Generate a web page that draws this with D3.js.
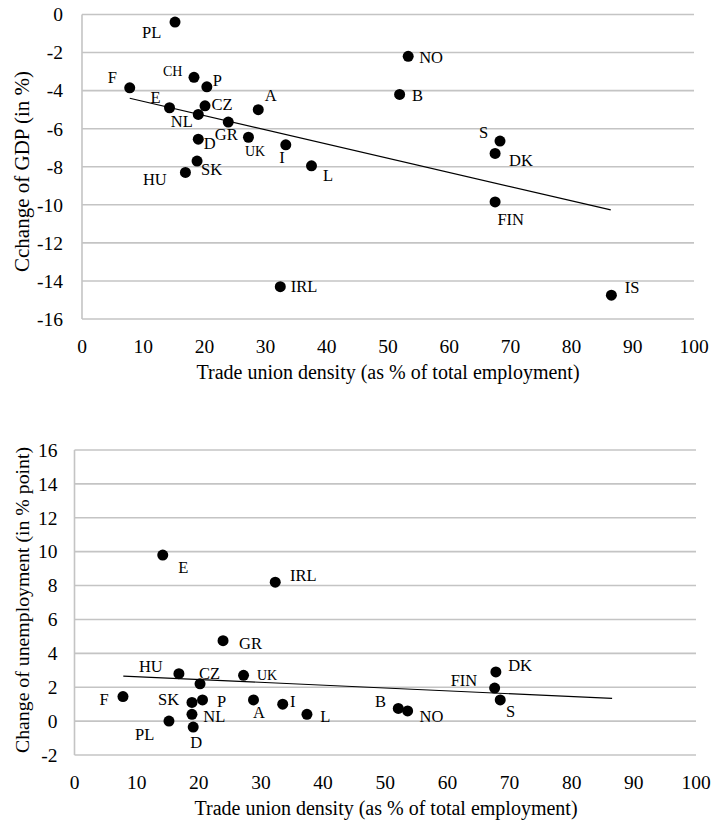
<!DOCTYPE html>
<html>
<head>
<meta charset="utf-8">
<script src="https://cdn.jsdelivr.net/npm/d3@7"></script>
<style>
  body { margin: 0; background: #fff; }
  svg { display: block; }
</style>
</head>
<body>
<div id="chart"></div>
<script>
const width = 712;
const height = 823;
const serif = '"Liberation Serif"';

// countries in the top chart
const countries = ['PL', 'CH', 'P', 'F', 'E', 'CZ', 'NL', 'A', 'GR', 'D', 'UK', 'I', 'SK', 'HU', 'L', 'IRL', 'NO', 'B', 'S', 'DK', 'FIN', 'IS'];
const density = [15.2, 18.3, 20.4, 7.8, 14.3, 20.1, 19.0, 28.8, 23.9, 19.0, 27.2, 33.3, 18.8, 16.9, 37.5, 32.4, 53.3, 51.9, 68.3, 67.5, 67.5, 86.5];
const gdpChange = [-0.4, -3.3, -3.8, -3.85, -4.9, -4.8, -5.25, -5.0, -5.65, -6.55, -6.45, -6.85, -7.7, -8.3, -7.95, -14.3, -2.2, -4.2, -6.65, -7.3, -9.85, -14.75];

// countries in the bottom chart (no CH, no IS)
const countries2 = ['E', 'IRL', 'GR', 'HU', 'CZ', 'UK', 'F', 'SK', 'P', 'A', 'I', 'L', 'NL', 'PL', 'D', 'B', 'NO', 'DK', 'FIN', 'S'];
const density2 = [14.2, 32.3, 23.9, 16.8, 20.2, 27.2, 7.8, 18.9, 20.6, 28.8, 33.5, 37.4, 18.9, 15.2, 19.1, 52.1, 53.6, 67.8, 67.6, 68.5];
const unempChange = [9.8, 8.2, 4.75, 2.8, 2.2, 2.7, 1.45, 1.1, 1.25, 1.25, 1.0, 0.4, 0.4, 0.0, -0.35, 0.75, 0.6, 2.9, 1.95, 1.25];

// linear trend lines, end points
const trendGdp = [[7.8, -4.4], [86.4, -10.27]];
const trendUnemp = [[7.85, 2.66], [86.5, 1.34]];

const xTicks = [0, 10, 20, 30, 40, 50, 60, 70, 80, 90, 100];
const yTicksGdp = [0, -2, -4, -6, -8, -10, -12, -14, -16];
const yTicksUnemp = [-2, 0, 2, 4, 6, 8, 10, 12, 14, 16];

const xTitle = 'Trade union density (as % of total employment)';

// label placement (dx, dy from the dot, px) and smaller labels
const labelPosGdp = {
  PL: [-33, 15.5], CH: [-31, -1], P: [6, -1.3], F: [-22, -4.4], E: [-19, -4.4], CZ: [6.5, 4],
  NL: [-27.5, 13], A: [6.5, -8.3], GR: [-13.5, 18], D: [5.5, 10], UK: [-3.5, 18.4], I: [-6.5, 18.3],
  SK: [4, 14], HU: [-42.5, 13], L: [11.5, 15], IRL: [10.5, 5], NO: [11, 7], B: [12.4, 6.7],
  S: [-21, -2.7], DK: [14, 12.7], FIN: [2.3, 22.7], IS: [13.3, -2.3]
};
const labelPosUnemp = {
  E: [15.6, 18], IRL: [14.7, -1.3], GR: [16, 8.6], HU: [-40, -2], CZ: [-1, -4.4], UK: [13.4, 4.7],
  F: [-23.5, 8.3], SK: [-34, 3], P: [14.4, 7.3], A: [-0.5, 18.3], I: [7.3, 3.3], L: [13.3, 7.4],
  NL: [11.3, 7.4], PL: [-34, 18.7], D: [-3, 21], B: [-23.3, -1.6], NO: [12, 10.7], DK: [12.3, -0.6],
  FIN: [-44, -1.6], S: [5.7, 16.7]
};
const smallLabels = new Set(['CH', 'UK']);

const svg = d3.select('#chart').append('svg')
  .attr('width', width)
  .attr('height', height);

function scatter(cfg) {
  const x = d3.scaleLinear().domain([0, 100]).range([cfg.left, cfg.right]);
  const y = d3.scaleLinear().domain(cfg.yDomain).range([cfg.bottom, cfg.top]);
  const g = svg.append('g');

  // horizontal gridlines
  g.selectAll('line.grid')
    .data(cfg.yTicks)
    .join('line')
    .attr('class', 'grid')
    .attr('x1', cfg.left)
    .attr('x2', cfg.right)
    .attr('y1', d => y(d))
    .attr('y2', d => y(d))
    .attr('stroke', '#c4c4c4')
    .attr('stroke-width', 1.6);

  // left axis line
  g.append('line')
    .attr('x1', cfg.left).attr('x2', cfg.left)
    .attr('y1', cfg.top).attr('y2', cfg.bottom)
    .attr('stroke', '#c4c4c4')
    .attr('stroke-width', 1.6);

  g.selectAll('text.ytick')
    .data(cfg.yTicks)
    .join('text')
    .attr('class', 'ytick')
    .attr('x', cfg.left - cfg.yTickGap)
    .attr('y', d => y(d))
    .attr('dy', '0.35em')
    .attr('text-anchor', 'end')
    .attr('font-size', 19.5)
    .style('font-family', serif)
    .text(d => d);

  g.selectAll('text.xtick')
    .data(xTicks)
    .join('text')
    .attr('class', 'xtick')
    .attr('x', d => x(d))
    .attr('y', cfg.bottom + 34)
    .attr('text-anchor', 'middle')
    .attr('font-size', 19.5)
    .style('font-family', serif)
    .text(d => d);

  g.append('text')
    .attr('x', cfg.xTitleX)
    .attr('y', cfg.bottom + 60)
    .attr('text-anchor', 'middle')
    .attr('font-size', 20)
    .style('font-family', serif)
    .text(xTitle);

  g.append('text')
    .attr('transform', `translate(29,${cfg.yTitleY}) rotate(-90)`)
    .attr('text-anchor', 'middle')
    .attr('font-size', cfg.yTitleSize)
    .style('font-family', serif)
    .text(cfg.yTitle);

  // trend line
  g.append('path')
    .datum(cfg.trend)
    .attr('d', d3.line().x(d => x(d[0])).y(d => y(d[1])))
    .attr('fill', 'none')
    .attr('stroke', '#000')
    .attr('stroke-width', 1.2);

  const pts = cfg.names.map((n, i) => ({ name: n, x: cfg.xs[i], y: cfg.ys[i] }));

  g.selectAll('circle')
    .data(pts)
    .join('circle')
    .attr('cx', d => x(d.x))
    .attr('cy', d => y(d.y))
    .attr('r', 5.5)
    .attr('fill', '#000');

  g.selectAll('text.lab')
    .data(pts)
    .join('text')
    .attr('class', 'lab')
    .attr('x', d => x(d.x) + cfg.labelPos[d.name][0])
    .attr('y', d => y(d.y) + cfg.labelPos[d.name][1])
    .attr('font-size', d => smallLabels.has(d.name) ? 14 : 16.5)
    .style('font-family', serif)
    .text(d => d.name);
}

scatter({
  left: 82, right: 694, top: 14.5, bottom: 319,
  yDomain: [-16, 0], yTicks: yTicksGdp, yTickGap: 19,
  yTitle: 'Cchange of GDP (in %)', yTitleSize: 21, yTitleY: 171.5, xTitleX: 388,
  names: countries, xs: density, ys: gdpChange,
  trend: trendGdp, labelPos: labelPosGdp
});

scatter({
  left: 74.5, right: 696, top: 450, bottom: 755,
  yDomain: [-2, 16], yTicks: yTicksUnemp, yTickGap: 17,
  yTitle: 'Change of unemployment (in % point)', yTitleSize: 19.8, yTitleY: 600, xTitleX: 386,
  names: countries2, xs: density2, ys: unempChange,
  trend: trendUnemp, labelPos: labelPosUnemp
});
</script>
</body>
</html>
